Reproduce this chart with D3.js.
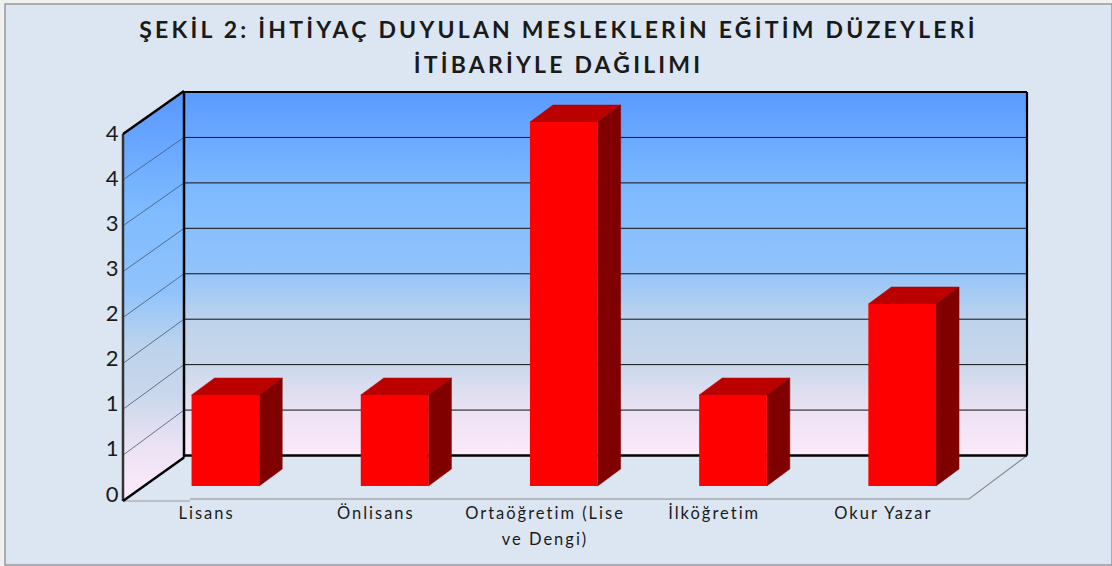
<!DOCTYPE html>
<html>
<head>
<meta charset="utf-8">
<script src="https://cdn.jsdelivr.net/npm/d3@7/dist/d3.min.js"></script>
<style>
html, body { margin:0; padding:0; background:#f0f0f0; overflow:hidden; }
svg { display:block; }
text { font-family:Lato, sans-serif; fill:#1a1a1a; }
</style>
</head>
<body>
<div id="chart"></div>
<script>
var categories = ["Lisans", "Önlisans", "Ortaöğretim (Lise", "İlköğretim", "Okur Yazar"];
var categorySecondLine = ["", "", "ve Dengi)", "", ""];
var values = [1, 1, 4, 1, 2];
var tickValues = [0, 0.5, 1, 1.5, 2, 2.5, 3, 3.5, 4];
var tickLabels = ["0", "1", "1", "2", "2", "3", "3", "4", "4"];
var titleLines = ["ŞEKİL 2: İHTİYAÇ DUYULAN MESLEKLERİN EĞİTİM DÜZEYLERİ", "İTİBARİYLE DAĞILIMI"];
var wallStops = [[0, "#5a9aff"], [0.28, "#7fbbff"], [0.48, "#90c3fb"], [0.62, "#bdd3ec"], [0.74, "#c9d7eb"], [0.86, "#e9e1f3"], [1, "#feeafa"]];

var w = 1112, h = 566;
var svg = d3.select("#chart").append("svg").attr("width", w).attr("height", h);

// the 3d box: front plane and back plane have their own scale
var frontLeft = 123, backLeft = 184, backRight = 1027, frontRight = 969;
var yFront = d3.scaleLinear().domain([0, 4]).range([501, 134]);
var yBack = d3.scaleLinear().domain([0, 4]).range([455.5, 92]);
var yBar = d3.scaleLinear().domain([0, 4]).range([486, 122]);
// labels sit a bit tighter than the front edge ticks
var yLabel = d3.scaleLinear().domain([0, 4]).range([494, 133]);
var x = d3.scaleBand().domain(categories).range([frontLeft, frontRight]).paddingInner(0.6).paddingOuter(0.3);
var barShift = 17.8, depthX = 23, depthY = 17;

// chart area
svg.append("rect").attr("x", 5).attr("y", 4).attr("width", w - 5).attr("height", 561)
	.attr("fill", "#dce6f2").attr("stroke", "#8c8c8c").attr("stroke-width", 1.3);

var grad = svg.append("defs").append("linearGradient").attr("id", "wall")
	.attr("gradientUnits", "userSpaceOnUse")
	.attr("x1", 0).attr("x2", 0).attr("y1", 92).attr("y2", 458);
grad.selectAll("stop").data(wallStops).enter().append("stop")
	.attr("offset", function(d){ return d[0]; })
	.attr("stop-color", function(d){ return d[1]; });

// walls
svg.append("rect").attr("x", backLeft).attr("y", yBack(4))
	.attr("width", backRight - backLeft).attr("height", yBack(0) - yBack(4))
	.attr("fill", "url(#wall)");

var grad2 = svg.select("defs").append("linearGradient").attr("id", "side")
	.attr("gradientUnits", "userSpaceOnUse")
	.attr("x1", 0).attr("x2", 0).attr("y1", 100).attr("y2", 498);
grad2.selectAll("stop").data(wallStops).enter().append("stop")
	.attr("offset", function(d){ return d[0]; })
	.attr("stop-color", function(d){ return d[1]; });

svg.append("path")
	.attr("d", d3.line()([[frontLeft, yFront(4)], [backLeft, yBack(4)], [backLeft, yBack(0) + 2], [frontLeft, yFront(0)]]) + "Z")
	.attr("fill", "url(#side)");

// gridlines, skip the floor and the top which get the thick edges
var inner = tickValues.slice(1, -1);
svg.selectAll(".grid-back").data(inner).enter().append("line")
	.attr("class", "grid-back")
	.attr("x1", backLeft).attr("x2", backRight)
	.attr("y1", yBack).attr("y2", yBack)
	.attr("stroke", "#111").attr("stroke-width", 1);
svg.selectAll(".grid-side").data(inner).enter().append("line")
	.attr("class", "grid-side")
	.attr("x1", frontLeft).attr("x2", backLeft)
	.attr("y1", yFront).attr("y2", yBack)
	.attr("stroke", "#46586e").attr("stroke-width", 0.8);

// floor outline
svg.append("path")
	.attr("d", d3.line()([[frontLeft, 501], [190, 501]]))
	.attr("fill", "none").attr("stroke", "#9a9a9a").attr("stroke-width", 1);
svg.append("path")
	.attr("d", d3.line()([[190, 499], [frontRight, 499], [backRight, yBack(0)]]))
	.attr("fill", "none").attr("stroke", "#8c8c8c").attr("stroke-width", 1.2);

// thick box edges
var edge = function(points, width, color) {
	svg.append("path").attr("d", d3.line()(points))
		.attr("fill", "none").attr("stroke", color).attr("stroke-width", width);
};
edge([[frontLeft, yFront(0)], [frontLeft, yFront(4)]], 2.5, "#333");
edge([[frontLeft, yFront(4)], [backLeft, yBack(4) - 1]], 2.5, "#000");
edge([[backLeft, yBack(4) - 1], [backLeft, yBack(0) + 2]], 2.5, "#000");
edge([[frontLeft, yFront(0)], [backLeft, yBack(0) + 2]], 2.5, "#000");
edge([[backLeft, yBack(4)], [backRight, yBack(4)]], 2.2, "#000");
edge([[backRight, yBack(4)], [backRight, yBack(0)]], 2.2, "#000");
edge([[backLeft, yBack(0)], [backRight, yBack(0)]], 2.5, "#000");

// bars
var bars = svg.selectAll(".bar").data(values).enter().append("g").attr("class", "bar");
var left = function(d, i){ return x(categories[i]) + barShift; };
var poly = d3.line();
bars.append("path").attr("fill", "#bb0000").attr("stroke", "#bb0000").attr("stroke-width", 0.5).attr("d", function(d, i){
	var a = left(d, i), b = a + x.bandwidth(), t = yBar(d);
	return poly([[a, t], [a + depthX, t - depthY], [b + depthX, t - depthY], [b, t]]) + "Z";
});
bars.append("path").attr("fill", "#800000").attr("stroke", "#800000").attr("stroke-width", 0.5).attr("d", function(d, i){
	var b = left(d, i) + x.bandwidth(), t = yBar(d);
	return poly([[b, t], [b + depthX, t - depthY], [b + depthX, yBar(0) - depthY], [b, yBar(0)]]) + "Z";
});
bars.append("rect").attr("fill", "#ff0000")
	.attr("x", left)
	.attr("y", function(d){ return yBar(d); })
	.attr("width", x.bandwidth())
	.attr("height", function(d){ return yBar(0) - yBar(d); });

// value axis
var axis = d3.axisLeft(yLabel).tickValues(tickValues).tickSize(0).tickPadding(0)
	.tickFormat(function(d, i){ return tickLabels[i]; });
var axisG = svg.append("g").attr("transform", "translate(118.5,0)").call(axis);
axisG.select(".domain").remove();
axisG.selectAll("text").attr("font-size", 22).style("font-family", "Lato, sans-serif").attr("fill", "#1a1a1a");

// category labels
var labelCenter = function(i){ return x(categories[i]) + x.bandwidth() / 2; };
svg.selectAll(".cat").data(categories).enter().append("text")
	.attr("class", "cat")
	.attr("x", function(d, i){ return labelCenter(i) - 1; })
	.attr("y", 519)
	.attr("text-anchor", "middle")
	.attr("font-size", 16.5)
	.attr("letter-spacing", 2)
	.text(function(d){ return d; });
svg.selectAll(".cat2").data(categorySecondLine).enter().append("text")
	.attr("class", "cat2")
	.attr("x", function(d, i){ return labelCenter(i) - 1; })
	.attr("y", 545)
	.attr("text-anchor", "middle")
	.attr("font-size", 16.5)
	.attr("letter-spacing", 2)
	.text(function(d){ return d; });

// title
svg.selectAll(".title").data(titleLines).enter().append("text")
	.attr("class", "title")
	.attr("x", 558.5)
	.attr("y", function(d, i){ return 38 + i * 35; })
	.attr("text-anchor", "middle")
	.attr("font-size", 23)
	.attr("font-weight", 700)
	.attr("letter-spacing", 3.2)
	.text(function(d){ return d; });
</script>
</body>
</html>
